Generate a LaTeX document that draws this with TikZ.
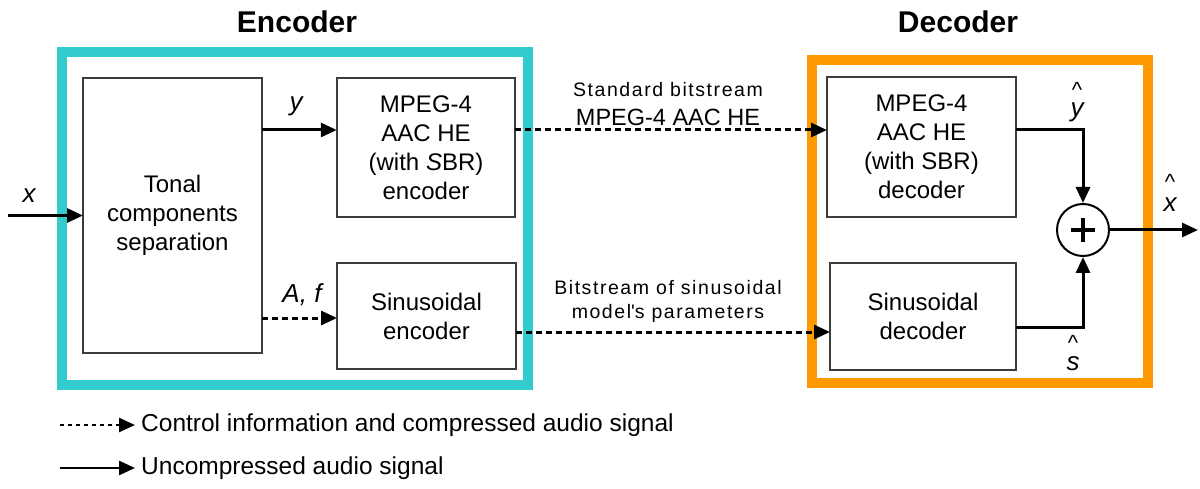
\documentclass[tikz,border=0pt]{standalone}
\usepackage{fontspec}
\setmainfont{Liberation Sans}
\newfontfamily\spacedfont{Liberation Sans}[LetterSpace=8]
\usetikzlibrary{arrows.meta}
\definecolor{enccyan}{RGB}{51,204,204}
\definecolor{decorange}{RGB}{255,153,0}
\definecolor{boxgray}{RGB}{60,60,60}

\begin{document}
\begin{tikzpicture}[x=1pt,y=-1pt,
  frame/.style={line width=10pt, inner sep=0pt, outer sep=0pt},
  block/.style={draw=boxgray, line width=1.6pt, fill=white, inner sep=0pt,
    outer sep=0pt, align=center, font=\fontsize{24}{29}\selectfont},
  sig/.style={line width=3pt, -{Triangle[length=16pt,width=14pt]}},
  ctrl/.style={sig, dash pattern=on 6pt off 4pt},
  var/.style={font=\fontsize{26}{30}\selectfont\itshape, inner sep=0pt},
  hatmark/.style={font=\fontsize{22}{22}\selectfont, inner sep=0pt, anchor=base},
  title/.style={font=\fontsize{30}{36}\selectfont\bfseries, inner sep=0pt},
  smalllab/.style={font=\spacedfont\fontsize{19.5}{22}\selectfont, inner sep=0pt},
  midlab/.style={font=\fontsize{23.5}{26}\selectfont, inner sep=0pt},
  legtext/.style={font=\fontsize{24.5}{28}\selectfont, inner sep=0pt, anchor=west}
]
\useasboundingbox (0,0) rectangle (1200,489);

% titles
\node[title] (enctitle) at (297,22) {Encoder};
\node[title] (dectitle) at (958,22) {Decoder};

% coloured frames
\node[frame, draw=enccyan, minimum width=465.5pt, minimum height=332.5pt] (encframe) at (294.75,218.25) {};
\node[frame, draw=decorange, minimum width=335.5pt, minimum height=323pt] (decframe) at (979.75,221.5) {};

% encoder blocks
\node[block, minimum width=179pt, minimum height=275pt] (tonal) at (172.5,215.5)
  {Tonal\\components\\separation};
\node[block, minimum width=178.5pt, minimum height=139pt] (mpegenc) at (426,147.5)
  {MPEG-4\\AAC HE\\(with \textit{S}BR)\\encoder};
\node[block, minimum width=179pt, minimum height=106pt] (sinenc) at (426.5,316)
  {Sinusoidal\\encoder};

% decoder blocks
\node[block, minimum width=189pt, minimum height=140pt] (mpegdec) at (921.5,147)
  {MPEG-4\\AAC HE\\(with SBR)\\decoder};
\node[block, minimum width=186pt, minimum height=107pt] (sindec) at (923,316.5)
  {Sinusoidal\\decoder};

% summing junction
\node[draw, circle, line width=2pt, minimum size=52pt, inner sep=0pt, fill=white] (sum) at (1083,230) {};
\draw[line width=4pt] ([xshift=-12pt]sum.center) -- ([xshift=12pt]sum.center);
\draw[line width=4pt] ([yshift=-12pt]sum.center) -- ([yshift=12pt]sum.center);

% signal rows
\coordinate (xin) at (8,215.5);
\coordinate (toprow) at (0,130);
\coordinate (afrow) at (0,318);
\coordinate (botrow) at (0,332);
\coordinate (srow) at (0,327);
\coordinate (xout) at (1198,230);

% connectors
\draw[sig] (xin) -- (tonal.west);
\draw[sig] (tonal.east |- toprow) -- (mpegenc.west |- toprow);
\draw[ctrl] (tonal.east |- afrow) -- (sinenc.west |- afrow);
\draw[ctrl] (mpegenc.east |- toprow) -- (mpegdec.west |- toprow);
\draw[ctrl] (sinenc.east |- botrow) -- (sindec.west |- botrow);
\draw[sig] (mpegdec.east |- toprow) -| (sum.north);
\draw[sig] (sindec.east |- srow) -| (sum.south);
\draw[sig] (sum.east) -- (xout);

% signal names
\node[var] (xlab) at (29,196) {x};
\node[var] (ylab) at (296,106) {y};
\node[var] (aflab) at (302,295) {A, f};
\node[hatmark] (yhat) at (1077,98) {\char"5E};
\node[var] (yhatlab) at (1077,112) {y};
\node[hatmark] (xhat) at (1170,190) {\char"5E};
\node[var] (xhatlab) at (1170,205) {x};
\node[hatmark] (shat) at (1073,350) {\char"5E};
\node[var] (shatlab) at (1073,364) {s};

% bitstream labels
\node[smalllab] (std1) at (668,90) {Standard bitstream};
\node[midlab] (std2) at (668,117) {MPEG-4 AAC HE};
\node[smalllab] (sin1) at (668,288) {Bitstream of sinusoidal};
\node[smalllab] (sin2) at (668,313) {model\textquotesingle s parameters};

% legend
\coordinate (l1a) at (60,425);
\coordinate (l1b) at (135,425);
\coordinate (l2a) at (60,468);
\coordinate (l2b) at (135,468);
\draw[ctrl, line width=2.5pt, dash pattern=on 4pt off 4pt] (l1a) -- (l1b);
\draw[sig, line width=2.5pt] (l2a) -- (l2b);
\node[legtext] (leg1) at (141,425) {Control information and compressed audio signal};
\node[legtext] (leg2) at (141,468) {Uncompressed audio signal};
\end{tikzpicture}
\end{document}
